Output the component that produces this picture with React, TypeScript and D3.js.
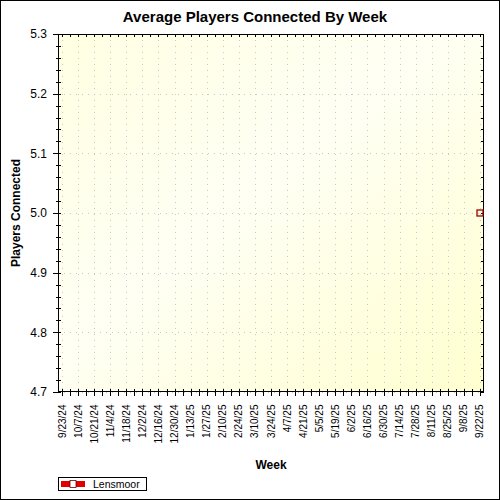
import * as d3 from "d3";
import { useEffect, useRef } from "react";

// weekly categories (every other week is labelled)
const firstWeek = "2024-09-23";
const lastWeek = "2025-09-22";
const weekLabels = [
  "9/23/24", "10/7/24", "10/21/24", "11/4/24", "11/18/24", "12/2/24", "12/16/24",
  "12/30/24", "1/13/25", "1/27/25", "2/10/25", "2/24/25", "3/10/25", "3/24/25",
  "4/7/25", "4/21/25", "5/5/25", "5/19/25", "6/2/25", "6/16/25", "6/30/25",
  "7/14/25", "7/28/25", "8/11/25", "8/25/25", "9/8/25", "9/22/25",
];

// series
const seriesName = "Lensmoor";
const seriesDates = ["2025-09-22"];
const seriesValues = [5.0];

const yDomain = [4.7, 5.3];
const yMajorTicks = [4.7, 4.8, 4.9, 5.0, 5.1, 5.2, 5.3];

const W = 500;
const H = 500;
const PLOT = { left: 58, right: 484, top: 34, bottom: 392 };
const FONT = "'Liberation Sans', Arial, sans-serif";

const parse = d3.timeParse("%Y-%m-%d");
const fmt = d3.timeFormat("%-m/%-d/%y");

export default function App() {
  const svgRef = useRef<SVGSVGElement | null>(null);

  useEffect(() => {
    if (!svgRef.current) return;
    const svg = d3.select(svgRef.current);
    svg.selectAll("*").remove();

    const start = parse(firstWeek)!;
    const end = parse(lastWeek)!;
    const weeks = d3.timeMonday.range(start, d3.timeDay.offset(end, 1));

    const x = d3
      .scaleTime()
      .domain([d3.timeHour.offset(start, -84), d3.timeHour.offset(end, 84)])
      .range([PLOT.left, PLOT.right]);
    const y = d3.scaleLinear().domain(yDomain).range([PLOT.bottom, PLOT.top]);

    const labelled = weeks.filter((w) => weekLabels.includes(fmt(w)));
    const minorY = d3.range(0, 31).map((i) => 4.7 + i * 0.02);

    // background
    svg.append("rect").attr("width", W).attr("height", H).attr("fill", "#fff");
    const defs = svg.append("defs");
    const grad = defs
      .append("linearGradient")
      .attr("id", "bg")
      .attr("x1", "0")
      .attr("y1", "0")
      .attr("x2", "1")
      .attr("y2", "1");
    grad.append("stop").attr("offset", "0").attr("stop-color", "#ffffe2");
    grad.append("stop").attr("offset", "0.45").attr("stop-color", "#fffff4");
    grad.append("stop").attr("offset", "1").attr("stop-color", "#ffffcf");

    svg
      .append("rect")
      .attr("x", PLOT.left)
      .attr("y", PLOT.top)
      .attr("width", PLOT.right - PLOT.left)
      .attr("height", PLOT.bottom - PLOT.top)
      .attr("fill", "url(#bg)");

    // grid
    const grid = svg
      .append("g")
      .attr("stroke", "#c8c8c8")
      .attr("stroke-dasharray", "1,5")
      .attr("shape-rendering", "crispEdges");
    grid
      .selectAll("line.v")
      .data(labelled)
      .join("line")
      .attr("class", "v")
      .attr("x1", (d) => Math.round(x(d)) + 0.5)
      .attr("x2", (d) => Math.round(x(d)) + 0.5)
      .attr("y1", PLOT.top)
      .attr("y2", PLOT.bottom);
    grid
      .selectAll("line.h")
      .data(yMajorTicks)
      .join("line")
      .attr("class", "h")
      .attr("x1", PLOT.left)
      .attr("x2", PLOT.right)
      .attr("y1", (d) => Math.round(y(d)) + 0.5)
      .attr("y2", (d) => Math.round(y(d)) + 0.5);

    // frame
    svg
      .append("rect")
      .attr("x", PLOT.left + 0.5)
      .attr("y", PLOT.top + 0.5)
      .attr("width", PLOT.right - PLOT.left - 1)
      .attr("height", PLOT.bottom - PLOT.top - 1)
      .attr("fill", "none")
      .attr("stroke", "#000");

    const ticks = svg.append("g").attr("stroke", "#000").attr("shape-rendering", "crispEdges");
    // bottom + top ticks, one per week
    weeks.forEach((w) => {
      const px = Math.round(x(w)) + 0.5;
      ticks.append("line").attr("x1", px).attr("x2", px).attr("y1", PLOT.bottom - 3).attr("y2", PLOT.bottom + 4);
      ticks.append("line").attr("x1", px).attr("x2", px).attr("y1", PLOT.top).attr("y2", PLOT.top + 3);
    });
    // left + right ticks
    minorY.forEach((v, i) => {
      const py = Math.round(y(v)) + 0.5;
      const major = i % 5 === 0;
      ticks.append("line").attr("x1", PLOT.left - (major ? 5 : 2)).attr("x2", PLOT.left + 3).attr("y1", py).attr("y2", py);
      ticks.append("line").attr("x1", PLOT.right - 3).attr("x2", PLOT.right).attr("y1", py).attr("y2", py);
    });

    // y tick labels
    svg
      .append("g")
      .attr("font-family", FONT)
      .attr("font-size", 12)
      .attr("fill", "#000")
      .attr("text-anchor", "end")
      .selectAll("text")
      .data(yMajorTicks)
      .join("text")
      .attr("x", PLOT.left - 11)
      .attr("y", (d) => y(d))
      .attr("dy", "0.35em")
      .text((d) => d.toFixed(1));

    // x tick labels
    svg
      .append("g")
      .attr("font-family", FONT)
      .attr("font-size", 10)
      .attr("fill", "#000")
      .attr("text-anchor", "end")
      .selectAll("text")
      .data(labelled)
      .join("text")
      .attr("transform", (d) => `translate(${x(d)},${PLOT.bottom + 12.5}) rotate(-90)`)
      .attr("dy", "0.35em")
      .text((d) => fmt(d));

    // series
    const points = seriesDates.map((d, i) => ({ date: parse(d)!, value: seriesValues[i] }));
    svg
      .append("path")
      .datum(points)
      .attr("fill", "none")
      .attr("stroke", "#e00000")
      .attr("stroke-width", 2)
      .attr("d", d3.line<{ date: Date; value: number }>().x((d) => x(d.date)).y((d) => y(d.value)));
    svg
      .selectAll("rect.pt")
      .data(points)
      .join("rect")
      .attr("class", "pt")
      .attr("x", (d) => Math.round(x(d.date)) - 3)
      .attr("y", (d) => Math.round(y(d.value)) - 3)
      .attr("width", 6)
      .attr("height", 6)
      .attr("fill", "none")
      .attr("stroke", "#a00000")
      .attr("stroke-width", 1.3);

    // titles
    svg
      .append("text")
      .attr("x", 255)
      .attr("y", 22)
      .attr("text-anchor", "middle")
      .attr("font-family", FONT)
      .attr("font-weight", "bold")
      .attr("font-size", 15)
      .text("Average Players Connected By Week");
    svg
      .append("text")
      .attr("x", (PLOT.left + PLOT.right) / 2)
      .attr("y", 469)
      .attr("text-anchor", "middle")
      .attr("font-family", FONT)
      .attr("font-weight", "bold")
      .attr("font-size", 12)
      .text("Week");
    svg
      .append("text")
      .attr("transform", `translate(20,${(PLOT.top + PLOT.bottom) / 2}) rotate(-90)`)
      .attr("text-anchor", "middle")
      .attr("font-family", FONT)
      .attr("font-weight", "bold")
      .attr("font-size", 12)
      .text("Players Connected");

    // legend
    const lg = svg.append("g").attr("transform", "translate(58,477)");
    lg.append("rect")
      .attr("x", 0.5)
      .attr("y", 0.5)
      .attr("width", 88)
      .attr("height", 13)
      .attr("fill", "#fff")
      .attr("stroke", "#000");
    lg.append("rect").attr("x", 3).attr("y", 4).attr("width", 24).attr("height", 6).attr("fill", "#e00000");
    lg.append("rect")
      .attr("x", 12)
      .attr("y", 3.5)
      .attr("width", 6)
      .attr("height", 7)
      .attr("fill", "#fff")
      .attr("stroke", "#600")
      .attr("stroke-width", 0.8);
    lg.append("text")
      .attr("x", 35)
      .attr("y", 11)
      .attr("font-family", FONT)
      .attr("font-size", 10.5)
      .text(seriesName);

    // outer border
    svg
      .append("rect")
      .attr("x", 0.5)
      .attr("y", 0.5)
      .attr("width", W - 1)
      .attr("height", H - 1)
      .attr("fill", "none")
      .attr("stroke", "#000");
  }, []);

  return (
    <svg
      ref={svgRef}
      width={W}
      height={H}
      style={{ position: "absolute", left: 0, top: 0, display: "block" }}
    />
  );
}
